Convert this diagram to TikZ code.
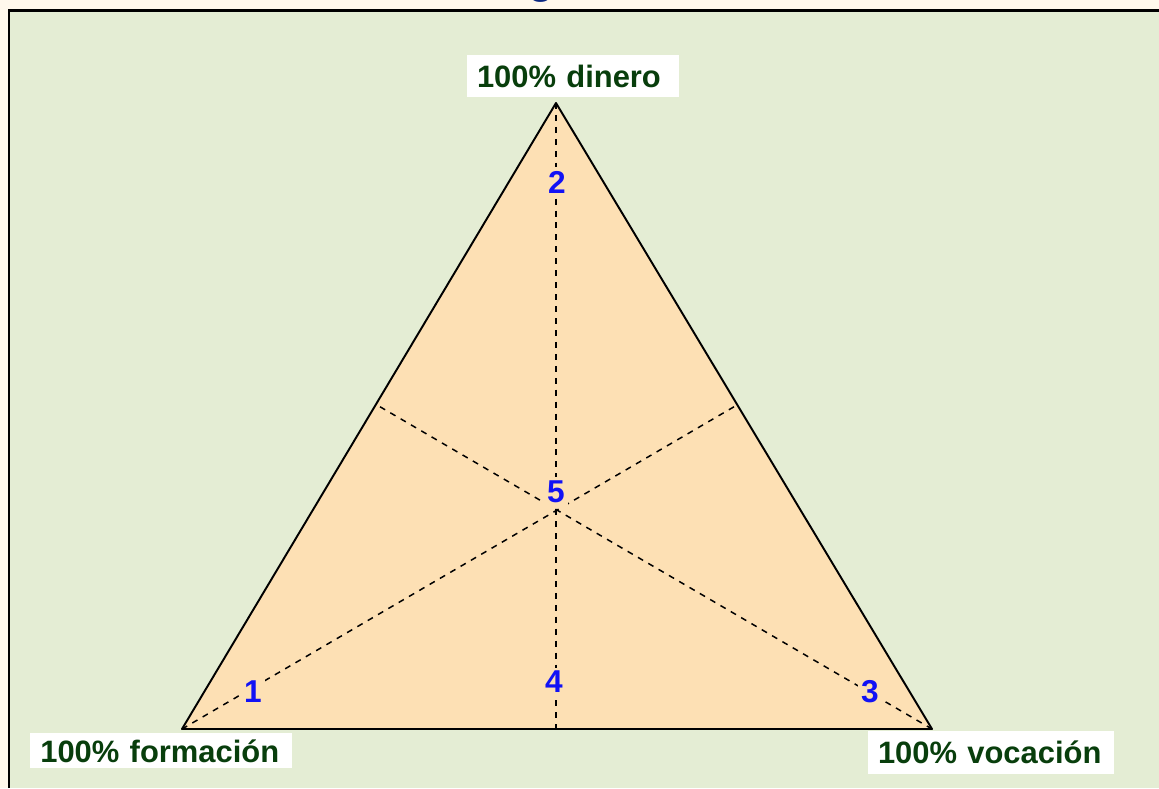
\documentclass[tikz,border=0pt]{standalone}
\usepackage{fontspec}
\setmainfont{Liberation Sans}
\usetikzlibrary{positioning, calc}

\definecolor{pagecream}{RGB}{255,248,236}
\definecolor{panelgreen}{RGB}{228,237,212}
\definecolor{trifill}{RGB}{253,224,180}
\definecolor{labelgreen}{RGB}{8,62,12}
\definecolor{numblue}{RGB}{18,18,245}
\definecolor{titlenavy}{RGB}{10,40,130}

\tikzset{
  corner/.style={fill=white, text=labelgreen, font=\fontsize{17.6}{20}\selectfont\bfseries,
    align=left, inner xsep=0.2cm, inner ysep=0pt},
  num/.style={fill=trifill, text=numblue, font=\fontsize{18}{20}\selectfont\bfseries, inner sep=2pt},
  median/.style={dash pattern=on 3.4pt off 3.4pt, line width=0.85pt},
}

\begin{document}
\begin{tikzpicture}[x=0.02cm, y=-0.02cm]
    % Page and panel
    \useasboundingbox (0,0) rectangle (1159,788);
    \fill[pagecream] (0,0) rectangle (1159,788);
    \fill[panelgreen] (9,11) rectangle (1159,788);
    \draw[black, line width=1.2pt] (9,788) -- (9,10.5) -- (1159,10.5);

    % Tail of the cut title
    \begin{scope}
        \clip (0,0) rectangle (1159,9.5);
        \node[text=titlenavy, font=\fontsize{24}{28}\selectfont\bfseries, anchor=base, inner sep=0pt]
            (title) at (541,-6.5) {g};
    \end{scope}

    % Corners of the triangle
    \coordinate (top) at (556,103);
    \coordinate (left) at (182,729);
    \coordinate (right) at (932,729);
    \coordinate (foot) at (556,729);
    \coordinate (midL) at (377,405);
    \coordinate (midR) at (737,405);

    % Triangle and medians
    \fill[trifill] (top) -- (right) -- (left) -- cycle;
    \draw[median] (top) -- (foot);
    \draw[median] (left) -- (midR);
    \draw[median] (right) -- (midL);
    \draw[line width=1.1pt, line join=round] (top) -- (right) -- (left) -- cycle;

    % Regions
    \node[num] (n2) at (557,182) {2};
    \node[num] (n5) at (556,492) {5};
    \node[num] (n4) at (554,682) {4};
    \node[num] (n1) at (253,692) {1};
    \node[num] (n3) at (870,692) {3};

    % Vertex labels
    \node[corner, text width=3.84cm, minimum height=0.84cm] (dinero) at (573,76) {100\% dinero};
    \node[corner, text width=4.84cm, minimum height=0.70cm, anchor=north west] (formacion) at (30,733) {100\% formación};
    \node[corner, text width=4.52cm, minimum height=0.86cm] (vocacion) at (991,752.5) {100\% vocación};
\end{tikzpicture}
\end{document}
